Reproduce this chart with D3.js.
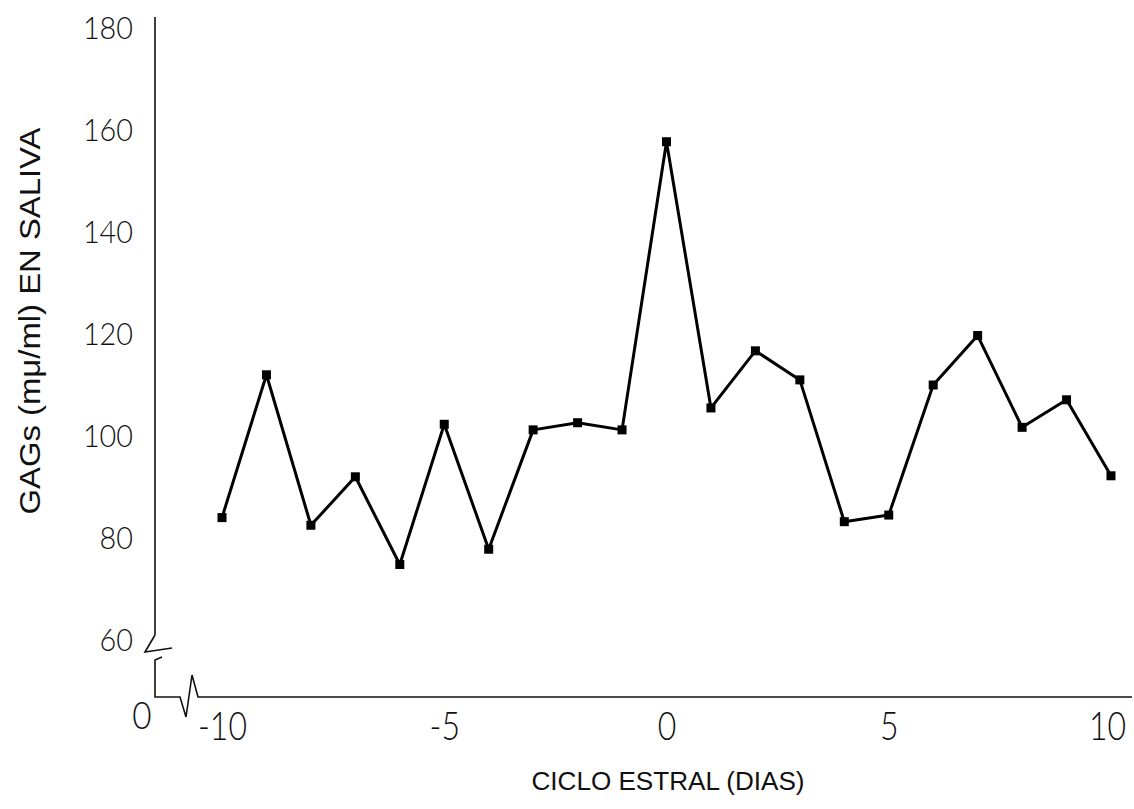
<!DOCTYPE html>
<html><head><meta charset="utf-8">
<script src="https://cdn.jsdelivr.net/npm/d3@7"></script>
<style>body{margin:0;background:#fff}svg{display:block}</style>
</head><body>
<svg id="c" width="1134" height="809"></svg>
<script>
const days = [-10,-9,-8,-7,-6,-5,-4,-3,-2,-1,0,1,2,3,4,5,6,7,8,9,10];
const gags = [84.0,112.0,82.5,92.0,74.8,102.3,77.8,101.2,102.6,101.2,157.7,105.5,116.7,111.0,83.2,84.5,110.0,119.7,101.7,107.1,92.2];
const yTicks = [60,80,100,120,140,160,180];
const xTicks = [-10,-5,0,5,10];
const yTitle = "GAGs (mμ/ml) EN SALIVA";
const xTitle = "CICLO ESTRAL (DIAS)";

const svg = d3.select("#c");
const x = d3.scaleLinear().domain([-10,10]).range([222,1111]);
const y = d3.scaleLinear().domain([60,180]).range([640,28]);
const axisX = 155, baseY = 697;
const tickFont = "Lato, 'Open Sans', sans-serif";

function squeeze(sel, f){
  sel.each(function(){
    const w = this.getComputedTextLength();
    d3.select(this).attr("textLength", w*f).attr("lengthAdjust","spacingAndGlyphs");
  });
}

// y axis (upper part)
svg.append("line").attr("x1",axisX).attr("x2",axisX).attr("y1",17).attr("y2",635)
  .attr("stroke","#111").attr("stroke-width",1.6);
// break symbols and lower axis
svg.append("path").attr("d",`M${axisX},635 L145,652 L172,648 M162,657 L${axisX},660 L${axisX},${baseY} L180,${baseY} L186,717 L192,675 L198,${baseY} L1132,${baseY}`)
  .attr("fill","none").attr("stroke","#111").attr("stroke-width",1.6);

// y tick labels
const ya = d3.axisLeft(y).tickValues(yTicks).tickSize(0).tickPadding(22);
const gY = svg.append("g").attr("transform",`translate(${axisX},0)`).call(ya);
gY.select(".domain").remove();
gY.selectAll("text").attr("font-family",tickFont).attr("font-weight",300)
  .attr("font-size",32).attr("fill","#111");
squeeze(gY.selectAll("text"), 0.9);
// "0" at the origin
const zero = svg.append("text").attr("x",142).attr("y",716).attr("dy","0.35em").attr("text-anchor","middle")
  .attr("font-family",tickFont).attr("font-weight",300).attr("font-size",37).attr("fill","#111").text("0");
squeeze(zero, 0.9);

// x tick labels
const xa = d3.axisBottom(x).tickValues(xTicks).tickSize(0).tickFormat(d3.format("d"));
const gX = svg.append("g").attr("transform",`translate(0,${baseY})`).call(xa);
gX.select(".domain").remove();
gX.selectAll("text").attr("y",29).attr("dy","0.36em").attr("font-family",tickFont).attr("font-weight",300)
  .attr("font-size",40).attr("fill","#111").text(d=>d<0?"-"+Math.abs(d):String(d));
squeeze(gX.selectAll("text"), 0.8);
gX.selectAll("text").filter(d=>d===10).attr("text-anchor","middle").attr("x",-4);

// line
svg.append("path").datum(days.map((d,i)=>[d,gags[i]]))
  .attr("d",d3.line().x(d=>x(d[0])).y(d=>y(d[1])))
  .attr("fill","none").attr("stroke","#000").attr("stroke-width",3).attr("stroke-linejoin","round");
// markers
svg.selectAll("rect.m").data(days).enter().append("rect").attr("class","m")
  .attr("x",(d)=>x(d)-4.5).attr("y",(d,i)=>y(gags[i])-4.5).attr("width",9).attr("height",9).attr("fill","#000");

// titles
svg.append("text").attr("transform","translate(30,321) rotate(-90)").attr("text-anchor","middle")
  .attr("dy","0.35em").attr("font-family","'Liberation Sans', Arial, sans-serif").attr("font-size",29)
  .attr("textLength",387).attr("lengthAdjust","spacingAndGlyphs")
  .attr("fill","#111").text(yTitle);
svg.append("text").attr("x",668).attr("y",781).attr("text-anchor","middle").attr("dy","0.35em")
  .attr("font-family","'Liberation Sans', Arial, sans-serif").attr("font-size",25)
  .attr("textLength",273).attr("lengthAdjust","spacingAndGlyphs")
  .attr("fill","#111").text(xTitle);
</script>
</body></html>
